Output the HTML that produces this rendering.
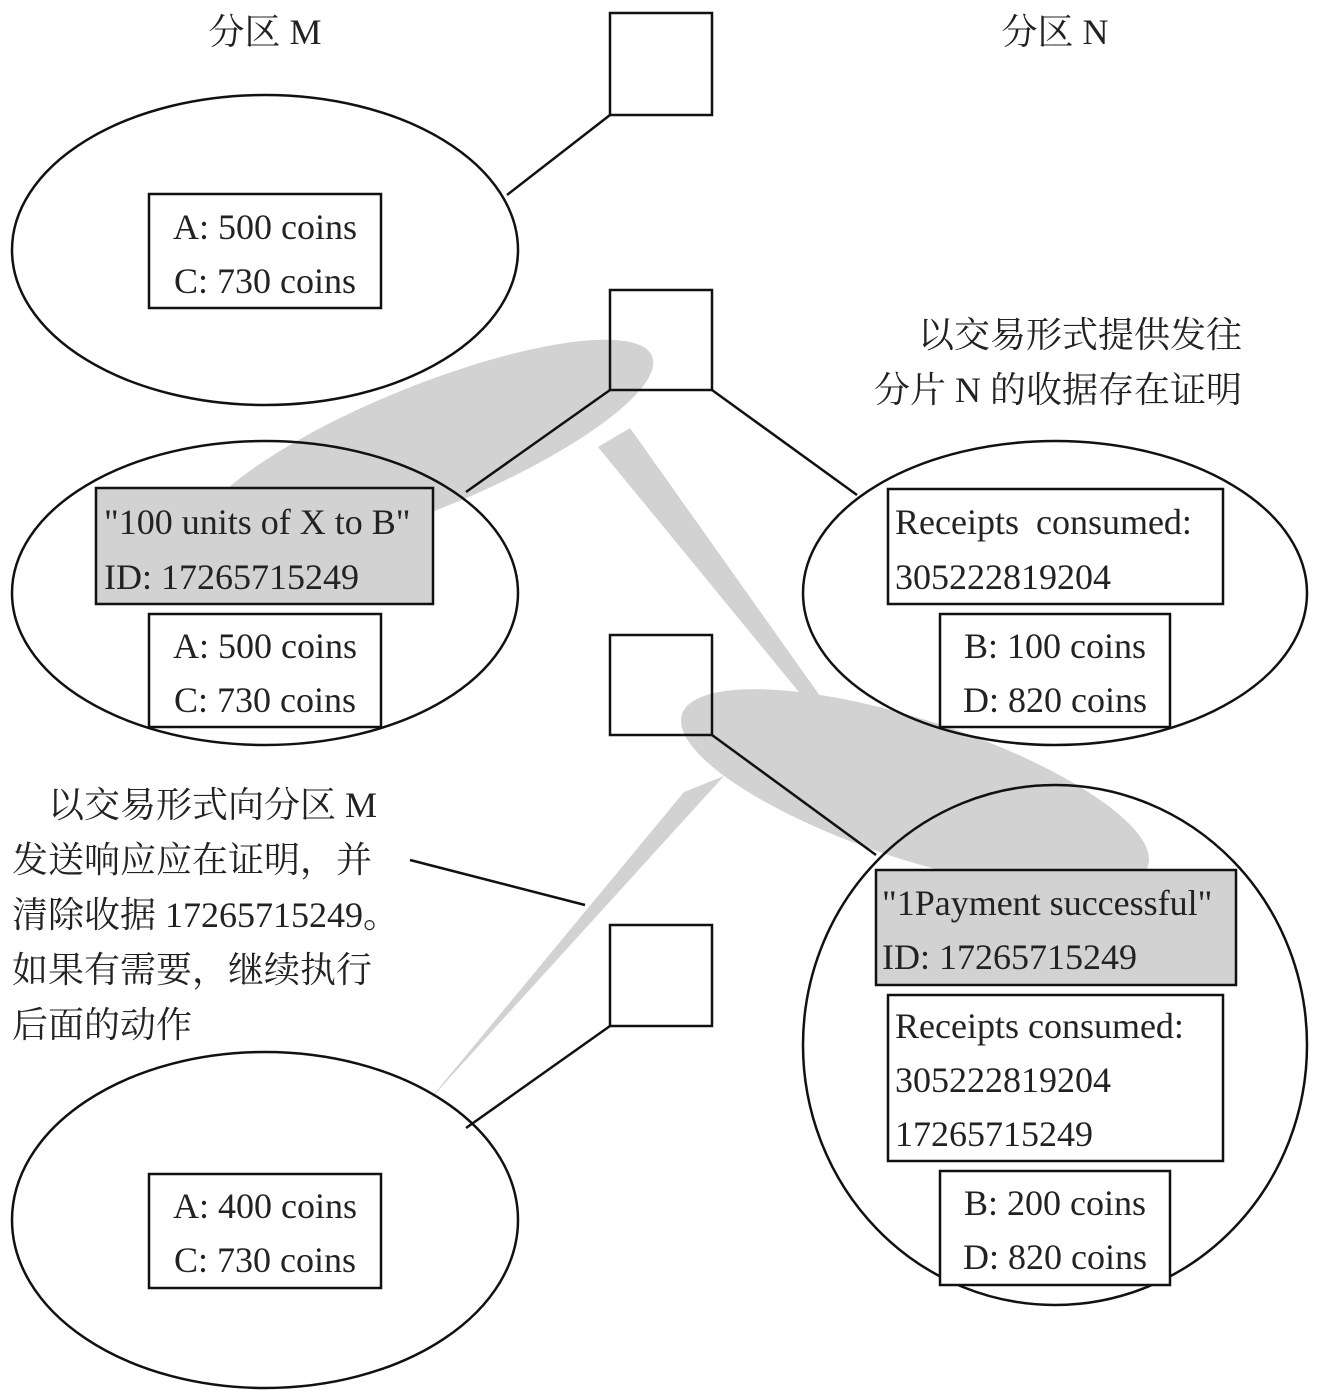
<!DOCTYPE html>
<html><head><meta charset="utf-8"><style>
html,body{margin:0;padding:0;background:#fff}
text{font-family:"Liberation Serif","Noto Serif CJK SC",serif;font-size:36px;fill:#222}
</style></head><body>
<svg width="1330" height="1390" viewBox="0 0 1330 1390" xmlns="http://www.w3.org/2000/svg">
<g fill="#d2d2d2" stroke="none">
<ellipse cx="425" cy="448" rx="245" ry="62" transform="rotate(-22 425 448)"/>
<polygon points="598,447 630,428 935,858"/>
<ellipse cx="915" cy="790" rx="245" ry="70" transform="rotate(18 915 790)"/>
<polygon points="684,792 724,776 425,1105"/>
</g>
<g fill="none" stroke="#111" stroke-width="2.5">
<rect x="610" y="13" width="102" height="102" fill="#fff"/>
<rect x="610" y="290" width="102" height="100" fill="none"/>
<rect x="610" y="635" width="102" height="100" fill="none"/>
<rect x="610" y="925" width="102" height="101" fill="#fff"/>
<ellipse cx="265" cy="250" rx="253" ry="155"/>
<ellipse cx="265" cy="593" rx="253" ry="152"/>
<ellipse cx="1055" cy="593" rx="252" ry="152"/>
<ellipse cx="1055" cy="1045" rx="252" ry="260"/>
<ellipse cx="265" cy="1220" rx="253" ry="168"/>
<line x1="610" y1="115" x2="507" y2="195"/>
<line x1="610" y1="390" x2="466" y2="492"/>
<line x1="712" y1="390" x2="857" y2="495"/>
<line x1="712" y1="735" x2="876" y2="855"/>
<line x1="610" y1="1026" x2="466" y2="1128"/>
<line x1="410" y1="860" x2="585" y2="905"/>
<rect x="149" y="194" width="232" height="114" fill="#fff"/>
<rect x="96" y="488" width="337" height="116" fill="#d2d2d2"/>
<rect x="149" y="614" width="232" height="113" fill="#fff"/>
<rect x="888" y="489" width="335" height="115" fill="#fff"/>
<rect x="940" y="614" width="230" height="113" fill="#fff"/>
<rect x="876" y="870" width="360" height="115" fill="#d2d2d2"/>
<rect x="888" y="995" width="335" height="166" fill="#fff"/>
<rect x="940" y="1171" width="230" height="114" fill="#fff"/>
<rect x="149" y="1174" width="232" height="114" fill="#fff"/>
</g>
<text x="265" y="44" text-anchor="middle">分区 M</text>
<text x="1055" y="44" text-anchor="middle">分区 N</text>
<text x="265" y="239" text-anchor="middle">A: 500 coins</text>
<text x="265" y="293" text-anchor="middle">C: 730 coins</text>
<text x="104" y="534">"100 units of X to B"</text>
<text x="104" y="589">ID: 17265715249</text>
<text x="265" y="658" text-anchor="middle">A: 500 coins</text>
<text x="265" y="712" text-anchor="middle">C: 730 coins</text>
<text x="895" y="534" word-spacing="8">Receipts consumed:</text>
<text x="895" y="589">305222819204</text>
<text x="1055" y="658" text-anchor="middle">B: 100 coins</text>
<text x="1055" y="712" text-anchor="middle">D: 820 coins</text>
<text x="1242" y="347" text-anchor="end">以交易形式提供发往</text>
<text x="1242" y="402" text-anchor="end">分片 N 的收据存在证明</text>
<text x="882" y="915">"1Payment successful"</text>
<text x="882" y="969">ID: 17265715249</text>
<text x="895" y="1038">Receipts consumed:</text>
<text x="895" y="1092">305222819204</text>
<text x="895" y="1146">17265715249</text>
<text x="1055" y="1215" text-anchor="middle">B: 200 coins</text>
<text x="1055" y="1269" text-anchor="middle">D: 820 coins</text>
<text x="265" y="1218" text-anchor="middle">A: 400 coins</text>
<text x="265" y="1272" text-anchor="middle">C: 730 coins</text>
<text x="48" y="817">以交易形式向分区 M</text>
<text x="12" y="872">发送响应应在证明，并</text>
<text x="12" y="927">清除收据 17265715249。</text>
<text x="12" y="982">如果有需要，继续执行</text>
<text x="12" y="1037">后面的动作</text>
</svg>
</body></html>
